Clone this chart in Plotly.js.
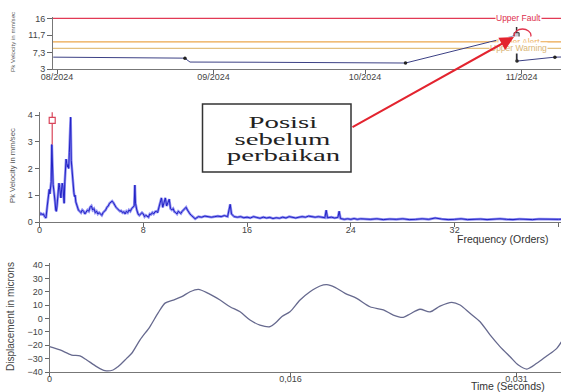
<!DOCTYPE html>
<html><head><meta charset="utf-8">
<script src="https://cdn.plot.ly/plotly-3.0.1.min.js"></script>
<style>html,body{margin:0;padding:0;background:#fff;}#chart{width:561px;height:392px;}</style>
</head><body><div id="chart"></div>
<script>
// ---------- Trend (top) ----------
const trendDates = ['2024-07-31 06:00','2024-08-15','2024-08-17','2024-08-25 22:00','2024-08-26 08:00','2024-08-27 08:00','2024-09-10','2024-09-28','2024-10-09','2024-10-31 00:00','2024-10-31 02:00','2024-11-07 14:00','2024-11-09 12:00'];
const trendValues = [6.1, 6.05, 5.9, 5.85, 5.8, 4.85, 4.8, 4.75, 4.6, 11.7, 5.1, 6.1, 6.15];
const trendDotDates = ['2024-08-26 08:00','2024-10-09','2024-10-31 02:00','2024-11-07 14:00'];
const trendDotValues = [5.8, 4.6, 5.1, 6.1];
const trendPeakDate = ['2024-10-31 00:00'];
const trendPeakValue = [11.7];
const cursorDates = ['2024-10-31 00:00','2024-10-31 00:00'];
const cursorValues = [13.8, 4.9];
const trendTickVals = [3, 7.3, 11.7, 16];
const trendTickText = ['3','7,3','11,7','16'];
const limitNames = ['Upper Fault','Upper Alert','Upper Warning'];
const limitValues = [16, 10, 8.35];

// ---------- Spectrum (middle) ----------
const specOrders = [0,0.1,0.2,0.3,0.4,0.5,0.6,0.7,0.75,0.8,0.85,0.9,0.95,1.0,1.05,1.1,1.15,1.2,1.25,1.3,1.35,1.4,1.45,1.5,1.55,1.6,1.65,1.7,1.75,1.8,1.85,1.9,1.95,2.0,2.05,2.1,2.15,2.2,2.25,2.3,2.35,2.4,2.45,2.5,2.55,2.6,2.65,2.7,2.75,2.8,2.9,3.0,3.1,3.2,3.3,3.4,3.5,3.6,3.7,3.8,3.9,4.0,4.1,4.2,4.3,4.4,4.5,4.6,4.7,4.8,4.9,5.0,5.1,5.2,5.3,5.4,5.5,5.6,5.7,5.8,5.9,6.0,6.1,6.2,6.3,6.4,6.5,6.6,6.7,6.8,6.9,7.0,7.1,7.2,7.3,7.35,7.4,7.5,7.6,7.7,7.8,7.9,8.0,8.1,8.2,8.3,8.4,8.5,8.6,8.7,8.8,8.9,9.0,9.1,9.2,9.3,9.4,9.5,9.6,9.7,9.8,9.9,10.0,10.1,10.2,10.3,10.4,10.5,10.6,10.7,10.8,10.9,11.0,11.1,11.2,11.3,11.4,11.5,11.6,11.7,11.8,11.9,12.0,12.25,12.5,12.75,13.0,13.25,13.5,13.75,14.0,14.25,14.5,14.7,14.8,15.0,15.25,15.5,15.75,16.0,16.25,16.5,16.75,17.0,17.25,17.5,17.75,18.0,18.25,18.5,18.75,19.0,19.25,19.5,19.75,20.0,20.25,20.5,20.75,21.0,21.25,21.5,21.75,22.0,22.1,22.2,22.5,22.75,23.0,23.1,23.2,23.5,23.75,24.0,24.25,24.5,24.75,25.0,25.5,26.0,26.5,27.0,27.5,28.0,28.5,29.0,29.5,30.0,30.5,31.0,31.5,32.0,32.5,33.0,33.5,34.0,34.5,35.0,35.5,36.0,36.5,37.0,37.5,38.0,38.5,39.0,39.5,40.0,40.5,41.0];
const specAmps = [0.25,0.32,0.28,0.3,0.2,0.15,0.6,1.15,1.22,1.05,1.3,1.5,2.9,1.6,1.4,1.2,1.05,0.75,0.45,0.4,0.6,0.9,1.3,1.45,1.3,1.0,0.9,1.2,1.45,1.35,0.85,0.7,1.5,2.0,2.35,2.2,2.05,2.15,2.0,2.6,3.5,3.92,2.3,1.9,1.5,1.45,1.1,0.95,1.0,0.75,0.6,0.45,0.4,0.35,0.45,0.4,0.3,0.38,0.45,0.4,0.55,0.6,0.45,0.5,0.35,0.4,0.3,0.35,0.3,0.25,0.35,0.4,0.45,0.55,0.6,0.7,0.75,0.78,0.72,0.6,0.55,0.5,0.45,0.4,0.42,0.35,0.38,0.3,0.4,0.35,0.45,0.4,0.5,0.55,0.6,1.38,0.7,0.45,0.3,0.25,0.3,0.35,0.3,0.2,0.25,0.2,0.18,0.3,0.28,0.35,0.3,0.38,0.4,0.35,0.55,0.65,0.9,0.55,0.7,0.9,0.6,0.75,0.85,0.5,0.45,0.5,0.38,0.35,0.3,0.4,0.35,0.32,0.4,0.45,0.5,0.55,0.45,0.35,0.3,0.25,0.2,0.15,0.12,0.2,0.18,0.22,0.2,0.18,0.2,0.22,0.2,0.24,0.2,0.66,0.3,0.2,0.18,0.2,0.16,0.18,0.15,0.2,0.17,0.14,0.18,0.15,0.17,0.13,0.16,0.14,0.18,0.15,0.2,0.17,0.15,0.18,0.2,0.18,0.22,0.2,0.18,0.2,0.19,0.16,0.44,0.16,0.18,0.15,0.17,0.4,0.13,0.1,0.12,0.1,0.13,0.1,0.12,0.11,0.1,0.12,0.09,0.11,0.1,0.12,0.09,0.1,0.12,0.1,0.15,0.11,0.09,0.1,0.12,0.09,0.1,0.11,0.09,0.1,0.12,0.1,0.09,0.11,0.1,0.09,0.11,0.1,0.09,0.1,0.11,0.1];
const harmOrder = [0.98, 0.98];
const harmAmps = [2.9, 4.1];
const harmMarkOrder = [0.98];
const harmMarkAmp = [3.8];
const specTickVals = [0, 8, 16, 24, 32, 40];

// ---------- Waveform (bottom) ----------
const waveTime = [0,0.0007,0.00147,0.00202,0.00247,0.00313,0.00368,0.00422,0.00455,0.00512,0.00546,0.00601,0.00667,0.0072,0.00767,0.00822,0.00878,0.00933,0.00988,0.01054,0.01132,0.01198,0.01265,0.01331,0.01397,0.01464,0.01503,0.01543,0.01596,0.01663,0.01729,0.01796,0.0184,0.01895,0.01962,0.02039,0.02127,0.02216,0.02282,0.02348,0.02393,0.02459,0.02526,0.02592,0.0267,0.02725,0.02791,0.02858,0.02924,0.0299,0.03057,0.03112,0.03168,0.03234,0.033,0.03367,0.03422];
const waveDisp = [-21,-23.5,-27.3,-28,-31,-36,-39,-38.5,-36,-29.8,-26,-16,-6,4,11.5,13.8,16.3,20,21.8,18.8,13.8,8.8,5,-1.1,-4.9,-6.1,-3,1.5,5,13.8,20,24.3,25.3,23.3,18.8,15,8.8,6.4,2.6,0.9,3.4,6.9,5,9.3,12.1,10.1,3.9,-2.4,-12.3,-21,-28.6,-34.8,-37.8,-33.5,-28,-22.3,-13];
const waveTickVals = [0, 0.016, 0.031];
const waveTickText = ['0', '0,016', '0,031'];
const waveYTicks = [-40,-30,-20,-10,0,10,20,30,40];

const boxLines = ['Posisi', 'sebelum', 'perbaikan'];

// ---------- styling ----------
const W = 561, H = 392;
const px = v => v / W;
const py = v => 1 - v / H;
const FONT = 'Liberation Sans, Arial, sans-serif';
const limitColors = ['#e23a55', '#eba64a', '#e3c07e'];
const limitText = ['#dd2e4c', '#eeb060', '#d9b574'];

function axisBase(extra) {
  return Object.assign({
    showline: true, linecolor: '#777', linewidth: 1,
    ticks: 'outside', ticklen: 4, tickcolor: '#666', tickwidth: 1,
    tickfont: {family: FONT, size: 9, color: '#444'},
    showgrid: false, zeroline: false, fixedrange: true
  }, extra);
}

const traces = [
  {x: trendDates, y: trendValues, xaxis: 'x', yaxis: 'y', mode: 'lines', line: {color: '#3c4185', width: 1}},
  {x: trendDotDates, y: trendDotValues, xaxis: 'x', yaxis: 'y', mode: 'markers', marker: {color: '#222', size: 3.5}},
  {x: cursorDates, y: cursorValues, xaxis: 'x', yaxis: 'y', mode: 'lines', line: {color: '#333', width: 1.5}},
  {x: trendPeakDate, y: trendPeakValue, xaxis: 'x', yaxis: 'y', mode: 'markers', marker: {symbol: 'square', color: '#c9c9d6', size: 5, line: {color: '#333', width: 1}}},
  {x: specOrders, y: specAmps, xaxis: 'x2', yaxis: 'y2', mode: 'lines', line: {color: '#8f8ff2', width: 2.6}},
  {x: specOrders, y: specAmps, xaxis: 'x2', yaxis: 'y2', mode: 'lines', line: {color: '#2222c4', width: 1}},
  {x: harmOrder, y: harmAmps, xaxis: 'x2', yaxis: 'y2', mode: 'lines', line: {color: '#d9455a', width: 1.2}, cliponaxis: false},
  {x: harmMarkOrder, y: harmMarkAmp, xaxis: 'x2', yaxis: 'y2', mode: 'markers', marker: {symbol: 'square', size: 6, color: '#fff', line: {color: '#d9455a', width: 1.2}}},
  {x: waveTime, y: waveDisp, xaxis: 'x3', yaxis: 'y3', mode: 'lines', line: {color: '#66698e', width: 1.3, shape: 'spline', smoothing: 0.8}}
];

const shapes = limitValues.map((v, i) => ({
  type: 'line', xref: 'x domain', x0: 0, x1: 1, yref: 'y', y0: v, y1: v,
  line: {color: limitColors[i], width: 1.2}, layer: 'below'
}));
shapes.push({type: 'circle', xref: 'paper', yref: 'paper', x0: px(514), x1: px(531), y0: py(42), y1: py(29), line: {color: '#e0344c', width: 1.3}});
shapes.push({type: 'rect', xref: 'paper', yref: 'paper', x0: px(202.5), x1: px(351), y0: py(172), y1: py(104), line: {color: '#333', width: 1.5}, fillcolor: '#fff'});

const annotations = [];
const C = {xanchor: 'center', yanchor: 'middle', showarrow: false};
limitNames.forEach((n, i) => annotations.push(Object.assign({}, C, {
  text: n, xref: 'paper', x: px(518), yref: 'y', y: limitValues[i],
  font: {family: FONT, size: 8.5, color: limitText[i]}, bgcolor: '#fff', borderpad: 0
})));
// axis titles
annotations.push(Object.assign({}, C, {text: 'Pk Velocity in mm/sec', xref: 'paper', yref: 'paper', x: px(13), y: py(42), textangle: -90, font: {family: FONT, size: 6.2, color: '#555'}}));
annotations.push(Object.assign({}, C, {text: 'Pk Velocity in mm/sec', xref: 'paper', yref: 'paper', x: px(12), y: py(166), textangle: -90, font: {family: FONT, size: 7.7, color: '#555'}}));
annotations.push(Object.assign({}, C, {text: 'Displacement in microns', xref: 'paper', yref: 'paper', x: px(10), y: py(317), textangle: -90, font: {family: FONT, size: 10, color: '#444'}}));
annotations.push(Object.assign({}, C, {text: 'Frequency (Orders)', xref: 'paper', yref: 'paper', x: px(455), y: py(239), xanchor: 'left', font: {family: FONT, size: 10.5, color: '#333'}}));
annotations.push(Object.assign({}, C, {text: 'Time (Seconds)', xref: 'paper', yref: 'paper', x: px(469), y: py(386), xanchor: 'left', font: {family: FONT, size: 10.5, color: '#333'}}));
// arrow
annotations.push({text: '', xref: 'paper', yref: 'paper', x: px(514), y: py(37), xanchor: 'center', yanchor: 'middle', ax: -163, ay: 91, showarrow: true, arrowcolor: '#e3242f', arrowwidth: 2, arrowhead: 2, arrowsize: 1.4, standoff: 0});
// box text
const boxStart = annotations.length;
const boxY = [122.7, 139.4, 156.1];
boxLines.forEach((t, i) => annotations.push(Object.assign({}, C, {
  text: t, xref: 'paper', yref: 'paper', x: px(283), y: py(boxY[i]),
  font: {family: 'Liberation Serif, Times New Roman, serif', size: 16, color: '#222'}
})));

const layout = {
  width: W, height: H, margin: {l: 0, r: 0, t: 0, b: 0},
  paper_bgcolor: '#fff', plot_bgcolor: '#fff', showlegend: false, hovermode: false,
  xaxis: axisBase({type: 'date', domain: [px(53), 1], anchor: 'y', range: ['2024-07-31 05:00', '2024-11-08 19:00'], tickformat: '%m/%Y', dtick: 'M1', tick0: '2024-08-01', ticklabelstandoff: -5}),
  yaxis: axisBase({domain: [py(69.3), py(16.8)], anchor: 'x', range: [3, 16.4], tickvals: trendTickVals, ticktext: trendTickText, ticklen: 5}),
  xaxis2: axisBase({domain: [px(39.5), 1], anchor: 'y2', range: [0, 40.2], tickvals: specTickVals, ticklabelstandoff: -5}),
  yaxis2: axisBase({domain: [py(222), py(111.8)], anchor: 'x2', range: [0, 4.12], tickvals: [0, 1, 2, 3, 4]}),
  xaxis3: axisBase({domain: [px(49.5), 1], anchor: 'y3', range: [0, 0.03395], tickvals: waveTickVals, ticktext: waveTickText, ticklabelstandoff: -6}),
  yaxis3: axisBase({domain: [py(372), py(263)], anchor: 'x3', range: [-40, 41.5], tickvals: waveYTicks}),
  shapes: shapes, annotations: annotations
};

Plotly.newPlot('chart', traces, layout, {staticPlot: true, displayModeBar: false}).then(() => {
  for (let i = 0; i < boxLines.length; i++) {
    const t = document.querySelector('.annotation[data-index="' + (boxStart + i) + '"] text.annotation-text');
    if (!t) continue;
    const bb = t.getBBox();
    const cx = bb.x + bb.width / 2;
    const prev = t.getAttribute('transform') || '';
    t.setAttribute('transform', prev + ' translate(' + cx + ',0) scale(1.8,1) translate(' + (-cx) + ',0)');
  }
});
</script>
</body></html>
